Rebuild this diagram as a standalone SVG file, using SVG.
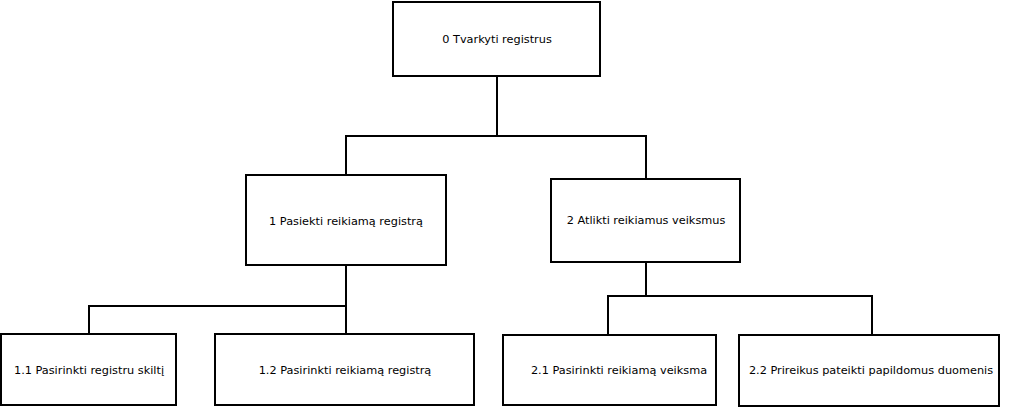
<svg xmlns="http://www.w3.org/2000/svg" width="1009" height="408" viewBox="0 0 1009 408">
<style>
.box{fill:#fff;stroke:#000;stroke-width:2}
.lbl{font-family:"DejaVu Sans",Verdana,sans-serif;font-size:11.3px;fill:#000;text-anchor:middle;dominant-baseline:central}
.con{fill:none;stroke:#000;stroke-width:2}
</style>
<rect width="1009" height="408" fill="#fff"/>
<g id="connectors">
<path class="con" d="M497 76V136M346 175V136H646V179"/>
<path class="con" d="M346 265V306M89 334V306H346V334"/>
<path class="con" d="M646 262V296M608 335V296H872V335"/>
</g>
<g id="n0"><rect class="box" x="393" y="2" width="207" height="74"/><text class="lbl" x="497" y="39">0 Tvarkyti registrus</text></g>
<g id="n1"><rect class="box" x="246" y="175" width="200" height="90"/><text class="lbl" x="346" y="221">1 Pasiekti reikiamą registrą</text></g>
<g id="n2"><rect class="box" x="551" y="179" width="189" height="83"/><text class="lbl" x="646" y="220">2 Atlikti reikiamus veiksmus</text></g>
<g id="n11"><rect class="box" x="1" y="334" width="175" height="71"/><text class="lbl" x="89" y="370">1.1 Pasirinkti registru skiltį</text></g>
<g id="n12"><rect class="box" x="215" y="334" width="259" height="71"/><text class="lbl" x="345" y="370">1.2 Pasirinkti reikiamą registrą</text></g>
<g id="n21"><rect class="box" x="503" y="335" width="213" height="70"/><text class="lbl" x="619" y="370">2.1 Pasirinkti reikiamą veiksma</text></g>
<g id="n22"><rect class="box" x="739" y="335" width="260" height="71"/><text class="lbl" x="871" y="370">2.2 Prireikus pateikti papildomus duomenis</text></g>
</svg>
